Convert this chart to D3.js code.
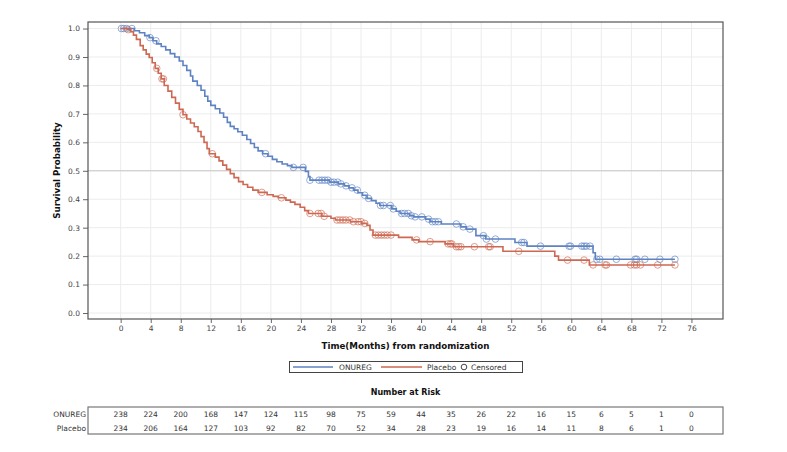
<!DOCTYPE html>
<html><head><meta charset="utf-8">
<script src="https://cdn.jsdelivr.net/npm/d3@7"></script>
<style>body{margin:0;background:#fff}svg{display:block}text{font-family:"DejaVu Sans",Verdana,sans-serif}</style>
</head><body><svg id="c" width="787" height="452"></svg>
<script>
// ---------- DATA ----------
const xTicks = [0,4,8,12,16,20,24,28,32,36,40,44,48,52,56,60,64,68,72,76];
const yTicks = [0.0,0.1,0.2,0.3,0.4,0.5,0.6,0.7,0.8,0.9,1.0];
const groups = ["ONUREG","Placebo"];
const onuregSteps = [[0,1.0],[1.8,0.992],[2.5,0.985],[3.2,0.975],[3.8,0.968],[4.3,0.957],[4.8,0.946],[5.4,0.937],[6.0,0.925],[6.6,0.912],[7.2,0.900],[7.8,0.886],[8.3,0.870],[8.8,0.853],[9.3,0.833],[9.6,0.815],[10.2,0.800],[10.7,0.783],[11.2,0.762],[11.6,0.745],[12.0,0.730],[12.6,0.718],[13.2,0.703],[13.7,0.688],[14.2,0.670],[14.6,0.656],[15.1,0.648],[15.6,0.637],[16.2,0.625],[16.8,0.610],[17.3,0.596],[17.8,0.582],[18.3,0.570],[18.9,0.560],[19.6,0.551],[20.2,0.540],[20.8,0.532],[21.5,0.524],[22.2,0.518],[22.8,0.512],[24.6,0.498],[25.0,0.480],[25.2,0.467],[27.8,0.460],[29.0,0.454],[29.8,0.447],[30.4,0.440],[31.0,0.432],[31.6,0.423],[32.2,0.414],[32.8,0.403],[33.4,0.395],[34.0,0.386],[34.5,0.378],[36.1,0.366],[36.7,0.358],[37.2,0.350],[38.5,0.342],[39.0,0.338],[40.6,0.330],[41.2,0.321],[42.7,0.313],[45.3,0.303],[46.0,0.295],[47.3,0.272],[48.6,0.260],[52.5,0.248],[54.1,0.235],[62.9,0.212],[63.2,0.189],[73.8,0.189]];
const onuregCensored = [0.1,0.4,0.8,1.5,3.9,4.7,19.3,23.0,24.3,25.2,26.4,26.8,27.2,27.6,28.0,28.4,28.9,29.3,30.0,30.8,31.5,32.5,33.0,34.6,35.0,35.9,36.3,37.4,37.8,38.3,38.7,39.2,40.1,41.0,41.5,41.9,42.3,44.7,45.6,46.5,48.3,48.7,49.9,53.4,53.7,55.9,59.7,59.9,61.4,61.7,62.0,62.5,63.4,63.8,66.0,68.5,68.7,69.8,71.8,73.8];
const placeboSteps = [[0,1.0],[0.9,0.996],[1.3,0.989],[1.7,0.977],[2.1,0.962],[2.6,0.940],[3.0,0.925],[3.4,0.910],[3.8,0.898],[4.2,0.880],[4.6,0.860],[5.0,0.843],[5.4,0.823],[5.8,0.800],[6.3,0.780],[6.8,0.758],[7.3,0.738],[7.8,0.716],[8.3,0.697],[8.8,0.682],[9.3,0.668],[9.8,0.655],[10.3,0.638],[10.7,0.620],[11.1,0.600],[11.5,0.578],[11.8,0.560],[12.6,0.548],[13.1,0.535],[13.6,0.520],[14.1,0.505],[14.6,0.490],[15.1,0.476],[15.7,0.462],[16.3,0.452],[16.9,0.442],[17.6,0.432],[18.3,0.424],[19.5,0.416],[20.3,0.410],[21.0,0.405],[22.0,0.397],[22.6,0.390],[23.2,0.382],[23.9,0.372],[24.5,0.360],[25.0,0.350],[26.8,0.340],[28.0,0.333],[28.6,0.327],[30.6,0.321],[32.1,0.315],[32.8,0.308],[33.2,0.292],[33.6,0.274],[37.0,0.266],[38.8,0.257],[39.7,0.251],[43.2,0.243],[44.3,0.233],[50.9,0.217],[57.8,0.200],[58.3,0.186],[62.4,0.169],[73.8,0.169]];
const placeboCensored = [1.0,4.8,5.5,5.7,8.3,12.2,18.8,21.4,25.2,26.3,26.7,27.1,28.8,29.2,29.6,30.0,30.5,31.0,31.6,32.0,32.5,33.9,34.3,34.7,35.1,35.5,36.0,39.4,41.2,43.6,43.9,44.1,44.7,45.0,45.3,47.1,49.0,49.2,53.0,59.5,61.7,62.9,64.5,64.7,67.9,68.4,68.7,69.2,71.5,73.8];
const riskOnureg = [238,224,200,168,147,124,115,98,75,59,44,35,26,22,16,15,6,5,1,0];
const riskPlacebo = [234,206,164,127,103,92,82,70,52,34,28,23,19,16,14,11,8,6,1,0];

// ---------- DRAW ----------
const svg = d3.select("#c");
const L=88, R=723, T=22, B=319;
const x = d3.scaleLinear().domain([-4.35,80.2]).range([L,R]);
const y = d3.scaleLinear().domain([-0.021,1.023]).range([B,T]);
const colors = {ONUREG:"#5e82c2", Placebo:"#cd6852"};

// grid
svg.append("g").selectAll("line").data(xTicks).join("line")
  .attr("x1",d=>x(d)).attr("x2",d=>x(d)).attr("y1",T).attr("y2",B)
  .attr("stroke","#ececec").attr("stroke-width",1);
svg.append("g").selectAll("line").data(yTicks).join("line")
  .attr("x1",L).attr("x2",R).attr("y1",d=>y(d)).attr("y2",d=>y(d))
  .attr("stroke","#ececec").attr("stroke-width",1);
svg.append("line").attr("x1",L).attr("x2",R).attr("y1",y(0.5)).attr("y2",y(0.5))
  .attr("stroke","#c8c8c8").attr("stroke-width",1);

// axes
const xAx = svg.append("g").attr("transform",`translate(0,${B})`)
  .call(d3.axisBottom(x).tickValues(xTicks).tickSize(4).tickPadding(3).tickSizeOuter(0));
const yAx = svg.append("g").attr("transform",`translate(${L},0)`)
  .call(d3.axisLeft(y).tickValues(yTicks).tickFormat(d3.format(".1f")).tickSize(5).tickPadding(3).tickSizeOuter(0));
[xAx,yAx].forEach(g=>{
  g.select(".domain").remove();
  g.selectAll("line").attr("stroke","#666");
  g.selectAll("text").attr("fill","#444").style("font-size","7.5px").style("font-family","DejaVu Sans");
});
// frame
svg.append("rect").attr("x",L).attr("y",T).attr("width",R-L).attr("height",B-T)
  .attr("fill","none").attr("stroke","#555").attr("stroke-width",1.2);

// curves
const line = d3.line().x(d=>x(d[0])).y(d=>y(d[1])).curve(d3.curveStepAfter);
const series = [
  {name:"ONUREG", steps:onuregSteps, cens:onuregCensored},
  {name:"Placebo", steps:placeboSteps, cens:placeboCensored}
];
function survAt(steps,t){let s=steps[0][1];for(const p of steps){if(p[0]<=t)s=p[1];else break;}return s;}
series.forEach(s=>{
  svg.append("path").datum(s.steps).attr("d",line).attr("fill","none")
    .attr("stroke",colors[s.name]).attr("stroke-width",1.6);
  svg.append("g").selectAll("circle").data(s.cens).join("circle")
    .attr("cx",d=>x(d)).attr("cy",d=>y(survAt(s.steps,d))).attr("r",3.3)
    .attr("fill","none").attr("stroke",colors[s.name]).attr("stroke-opacity",0.65).attr("stroke-width",1);
});

// axis titles
svg.append("text").attr("transform",`translate(60,${(T+B)/2}) rotate(-90)`)
  .attr("text-anchor","middle").style("font-size","8.7px").style("font-weight","bold").attr("fill","#111")
  .text("Survival Probability");
svg.append("text").attr("x",(L+R)/2).attr("y",349).attr("text-anchor","middle")
  .style("font-size","8.7px").style("font-weight","bold").attr("fill","#111")
  .text("Time(Months) from randomization");

// legend
const lg = svg.append("g");
lg.append("rect").attr("x",289.5).attr("y",361.5).attr("width",233).attr("height",11)
  .attr("fill","#fff").attr("stroke","#444").attr("stroke-width",1);
lg.append("line").attr("x1",293).attr("x2",333).attr("y1",367).attr("y2",367).attr("stroke",colors.ONUREG).attr("stroke-width",1.3);
lg.append("text").attr("x",339).attr("y",370).style("font-size","7.5px").attr("fill","#333").text("ONUREG");
lg.append("line").attr("x1",381).attr("x2",422).attr("y1",367).attr("y2",367).attr("stroke",colors.Placebo).attr("stroke-width",1.3);
lg.append("text").attr("x",427).attr("y",370).style("font-size","7.5px").attr("fill","#333").text("Placebo");
lg.append("circle").attr("cx",464).attr("cy",367).attr("r",2.8).attr("fill","none").attr("stroke","#333").attr("stroke-width",0.9);
lg.append("text").attr("x",471).attr("y",370).style("font-size","7.5px").attr("fill","#333").text("Censored");

// risk table
svg.append("text").attr("x",(L+R)/2).attr("y",395).attr("text-anchor","middle")
  .style("font-size","8px").style("font-weight","bold").attr("fill","#111").text("Number at Risk");
svg.append("rect").attr("x",L).attr("y",407).attr("width",R-L).attr("height",27)
  .attr("fill","none").attr("stroke","#777").attr("stroke-width",1.2);
const rows = [{name:groups[0],vals:riskOnureg,yy:417},{name:groups[1],vals:riskPlacebo,yy:430.5}];
rows.forEach(r=>{
  svg.append("text").attr("x",86).attr("y",r.yy).attr("text-anchor","end")
    .style("font-size","7.5px").attr("fill","#333").text(r.name);
  svg.append("g").selectAll("text").data(r.vals).join("text")
    .attr("x",(d,i)=>x(xTicks[i])).attr("y",r.yy).attr("text-anchor","middle")
    .style("font-size","7.5px").attr("fill","#333").text(d=>d);
});
</script></body></html>
